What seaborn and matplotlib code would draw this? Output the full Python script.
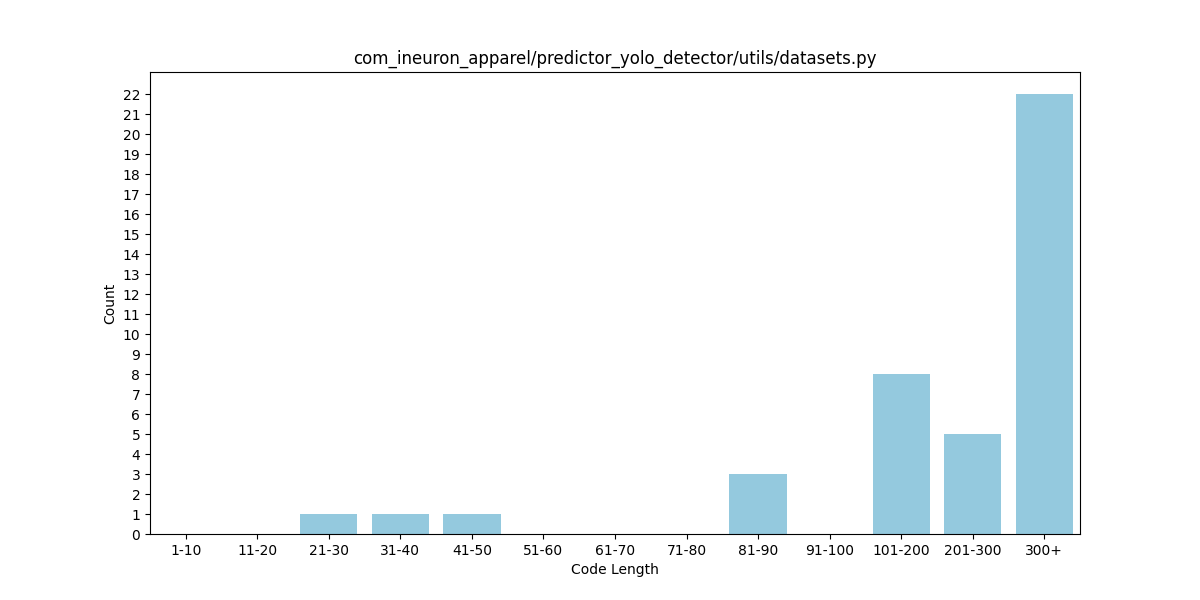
import matplotlib
matplotlib.use("Agg")
import matplotlib.pyplot as plt
import seaborn as sns

bins = ["1-10", "11-20", "21-30", "31-40", "41-50", "51-60", "61-70",
        "71-80", "81-90", "91-100", "101-200", "201-300", "300+"]
counts = [0, 0, 1, 1, 1, 0, 0, 0, 3, 0, 8, 5, 22]

fig, ax = plt.subplots(figsize=(12, 6), dpi=100)
sns.barplot(x=bins, y=counts, color="skyblue", ax=ax)
ax.set_yticks(range(0, max(counts) + 1))
ax.set_xlabel("Code Length")
ax.set_ylabel("Count")
ax.set_title("com_ineuron_apparel/predictor_yolo_detector/utils/datasets.py")
plt.savefig("out.png")
plt.close()
